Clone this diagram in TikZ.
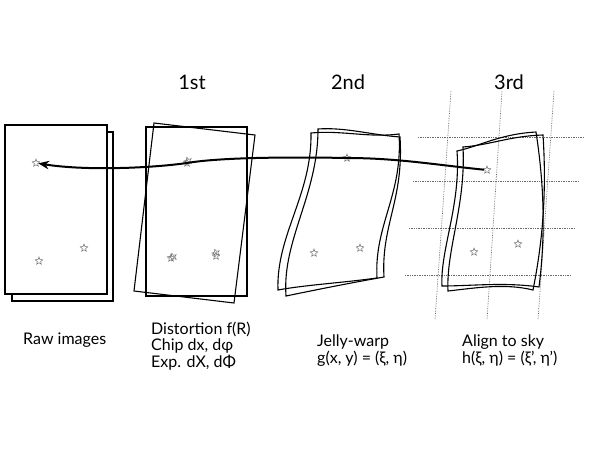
\documentclass[tikz,border=0pt]{standalone}
\usepackage{fontspec}
\setmainfont{Lato}
\usetikzlibrary{arrows.meta,shapes.geometric}
\definecolor{inkx}{HTML}{000000}
\definecolor{starx}{HTML}{6E6E6E}
\definecolor{gridx}{HTML}{6A6A6A}
\tikzset{
  ar/.style={-{Stealth[length=3.8mm,width=3mm]},line width=2pt,inkx},
  frm/.style={line width=1.1pt,inkx},
  st/.style={star,star points=5,star point ratio=2.3,minimum size=8pt,inner sep=0pt,draw=starx,line width=0.5pt},
  gd/.style={gridx,densely dotted,line width=0.7pt},
  hd/.style={font=\fontsize{20}{24}\selectfont,anchor=base},
  lb/.style={font=\fontsize{16}{16.5}\selectfont,align=left,anchor=base west,inner sep=0pt}
}
\begin{document}
\begin{tikzpicture}[x=1pt,y=-1pt]
\useasboundingbox (0,0) rectangle (598,448);
% sky grid
\foreach \xa/\xb in {451/435,502/487,554/538}
  \draw[gd] (\xa,91)--(\xb,320);
\foreach \yy/\xa/\xb in {137/418/583,181/413/579,228/409/575,275/405/571}
  \draw[gd] (\xa,\yy)--(\xb,\yy);
% raw images
\draw[frm] (12,132) rectangle (113,301);
\draw[frm,fill=white] (5,125) rectangle (107,294);
% 1st
\draw[frm] (146,127) rectangle (247,296);
\draw[frm] (154,123)--(255,135)--(234,303)--(134,291)--cycle;
% 2nd
\draw[frm] (311,133) .. controls (340,130) and (370,138) .. (399,134)
  .. controls (403,195) and (374,225) .. (377,278)
  .. controls (340,283) and (305,285) .. (278,290)
  .. controls (276,235) and (312,195) .. (311,133) -- cycle;
\draw[frm] (318,129) .. controls (345,127) and (372,135) .. (400,137)
  .. controls (404,200) and (381,225) .. (384,277)
  .. controls (350,283) and (315,290) .. (286,296)
  .. controls (282,240) and (318,195) .. (318,129) -- cycle;
% 3rd
\draw[frm] (457,151) .. controls (480,146) and (500,134) .. (536,132)
  .. controls (545,190) and (545,240) .. (539,287)
  .. controls (505,282) and (470,286) .. (442,286)
  .. controls (440,250) and (461,205) .. (457,151) -- cycle;
\draw[frm] (463,147) .. controls (490,145) and (510,136) .. (543,135)
  .. controls (547,195) and (542,245) .. (533,290)
  .. controls (505,283) and (475,288) .. (448,291)
  .. controls (446,250) and (466,205) .. (463,147) -- cycle;
% stars
\node[st] (s1a) at (36,163) {};
\node[st] (s1b) at (39,261) {};
\node[st] (s1c) at (84,248) {};
\node[st] (s2a) at (187,163) {};
\node[st,rotate=18] (s2a') at (188,161) {};
\node[st] (s2b) at (171,258) {};
\node[st,rotate=18] (s2b') at (173,257) {};
\node[st] (s2c) at (216,256) {};
\node[st,rotate=18] (s2c') at (216,253) {};
\node[st] (s3a) at (347,158) {};
\node[st] (s3b) at (314,253) {};
\node[st] (s3c) at (360,248) {};
\node[st] (s4a) at (487,170) {};
\node[st] (s4b) at (474,252) {};
\node[st] (s4c) at (518,244) {};
% back to the raw image
\draw[ar] (s4a) .. controls +(-50,-5) and +(50,0) .. (s3a.center)
  .. controls +(-50,-1) and +(35,-6) .. (s2a.center)
  .. controls +(-35,5) and +(50,8) .. (s1a);
% labels
\node[hd] (h1) at (192,89) {1st};
\node[hd] (h2) at (348,89) {2nd};
\node[hd] (h3) at (509,89) {3rd};
\node[lb] (l1) at (23,344) {Raw images};
\node[lb] (l2) at (151,367) {Distortion f(R)\\Chip dx, dφ\\Exp. dX, dΦ};
\node[lb] (l3) at (317,363) {Jelly-warp\\g(x, y) = (ξ, η)};
\node[lb] (l4) at (462,363) {Align to sky\\h(ξ, η) = (ξ’, η’)};
\end{tikzpicture}
\end{document}
